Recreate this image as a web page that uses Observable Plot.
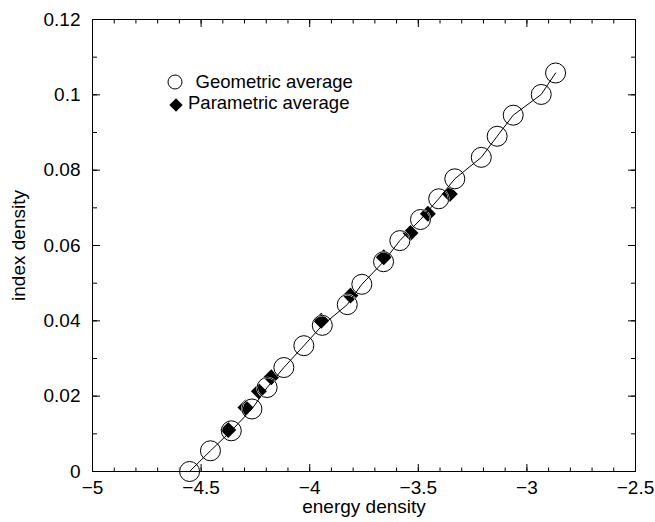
<!DOCTYPE html>
<html>
<head>
<meta charset="utf-8">
<script src="https://cdn.jsdelivr.net/npm/d3@7"></script>
<script src="https://cdn.jsdelivr.net/npm/@observablehq/plot@0.6"></script>
<style>
  html, body { margin: 0; padding: 0; background: white; }
</style>
</head>
<body>
<div id="chart"></div>
<script>
// Geometric average (open circles)
const geoX = [-4.553, -4.457, -4.361, -4.266, -4.196, -4.119, -4.027, -3.942, -3.827, -3.760,
              -3.660, -3.585, -3.490, -3.406, -3.332, -3.210, -3.137, -3.063, -2.934, -2.868];
const geoY = [0.0000, 0.0055, 0.0108, 0.0166, 0.0223, 0.0276, 0.0334, 0.0388, 0.0443, 0.0497,
              0.0557, 0.0613, 0.0669, 0.0724, 0.0777, 0.0834, 0.0890, 0.0946, 0.1001, 0.1058];
// Parametric average (filled diamonds)
const parX = [-4.375, -4.296, -4.234, -4.177, -3.947, -3.812, -3.659, -3.536, -3.456, -3.355];
const parY = [0.0110, 0.0170, 0.0213, 0.0250, 0.0400, 0.0467, 0.0569, 0.0633, 0.0684, 0.0737];

const xTicks = [-5, -4.5, -4, -3.5, -3, -2.5];
const yTicks = [0, 0.02, 0.04, 0.06, 0.08, 0.1, 0.12];
const xMinor = d3.ticks(-5, -2.5, 25);
const yMinor = d3.ticks(0, 0.12, 12);
const xLabel = "energy density";
const yLabel = "index density";
const seriesNames = ["Geometric average", "Parametric average"];

const geo = geoX.map((x, i) => ({x, y: geoY[i]}));
const par = parX.map((x, i) => ({x, y: parY[i]}));

const fmtX = d => d === 0 ? "0" : (d < 0 ? "\u2212" : "") + String(Math.abs(d));
const fmtY = d => d === 0 ? "0" : String(+d.toFixed(2));
const FS = 19;
const LFS = 18.5;

const chart = Plot.plot({
  width: 655,
  height: 522,
  marginLeft: 92,
  marginRight: 20,
  marginTop: 19,
  marginBottom: 51,
  x: {domain: [-5, -2.5]},
  y: {domain: [0, 0.12]},
  style: {fontFamily: "'Liberation Sans', Arial, Helvetica, sans-serif", fontSize: FS + "px", background: "white", color: "black", overflow: "visible"},
  marks: [
    // inward ticks, all four sides
    Plot.axisX({anchor: "bottom", ticks: xMinor, tickSize: -3.5, fill: "none", label: null}),
    Plot.axisX({anchor: "top", ticks: xMinor, tickSize: -3.5, fill: "none", label: null}),
    Plot.axisX({anchor: "bottom", ticks: xTicks, tickSize: -7, fill: "none", label: null}),
    Plot.axisX({anchor: "top", ticks: xTicks, tickSize: -7, fill: "none", label: null}),
    Plot.axisY({anchor: "left", ticks: yMinor, tickSize: -5, fill: "none", label: null}),
    Plot.axisY({anchor: "right", ticks: yMinor, tickSize: -5, fill: "none", label: null}),
    Plot.axisY({anchor: "left", ticks: yTicks, tickSize: -8, fill: "none", label: null}),
    Plot.axisY({anchor: "right", ticks: yTicks, tickSize: -8, fill: "none", label: null}),
    // tick labels
    Plot.axisX({anchor: "bottom", ticks: xTicks, tickSize: 0, tickPadding: 8.5, tickFormat: fmtX, label: null, fontSize: FS}),
    Plot.axisY({anchor: "left", ticks: yTicks, tickSize: 0, tickPadding: 12, tickFormat: fmtY, label: null, fontSize: FS}),
    // axis titles
    Plot.text([xLabel], {text: d => d, frameAnchor: "bottom", dy: 35.5, textAnchor: "middle", lineAnchor: "middle", fontSize: FS}),
    Plot.text([yLabel], {text: d => d, frameAnchor: "left", dx: -74, rotate: -90, textAnchor: "middle", lineAnchor: "middle", fontSize: FS}),
    // data
    Plot.dot(par, {x: "x", y: "y", symbol: "diamond2", r: 7.2, fill: "black", stroke: "none"}),
    Plot.dot(geo, {x: "x", y: "y", r: 10, fill: "none", stroke: "white", strokeWidth: 1.6}),
    Plot.dot(geo, {x: "x", y: "y", r: 10, fill: "none", stroke: "black", strokeWidth: 1}),
    Plot.line(geo, {x: "x", y: "y", stroke: "black", strokeWidth: 1}),
    // legend
    Plot.dot([seriesNames[0]], {frameAnchor: "top-left", dx: 82.5, dy: 62.5, r: 7, fill: "none", stroke: "black", strokeWidth: 1}),
    Plot.text([seriesNames[0]], {text: d => d, frameAnchor: "top-left", dx: 103, dy: 63, textAnchor: "start", lineAnchor: "middle", fontSize: LFS}),
    Plot.dot([seriesNames[1]], {frameAnchor: "top-left", dx: 83.5, dy: 85.5, symbol: "diamond2", r: 6, fill: "black", stroke: "none"}),
    Plot.text([seriesNames[1]], {text: d => d, frameAnchor: "top-left", dx: 95.5, dy: 84, textAnchor: "start", lineAnchor: "middle", fontSize: LFS}),
    Plot.frame({stroke: "black", strokeWidth: 1})
  ]
});
document.getElementById("chart").appendChild(chart);
</script>
</body>
</html>
